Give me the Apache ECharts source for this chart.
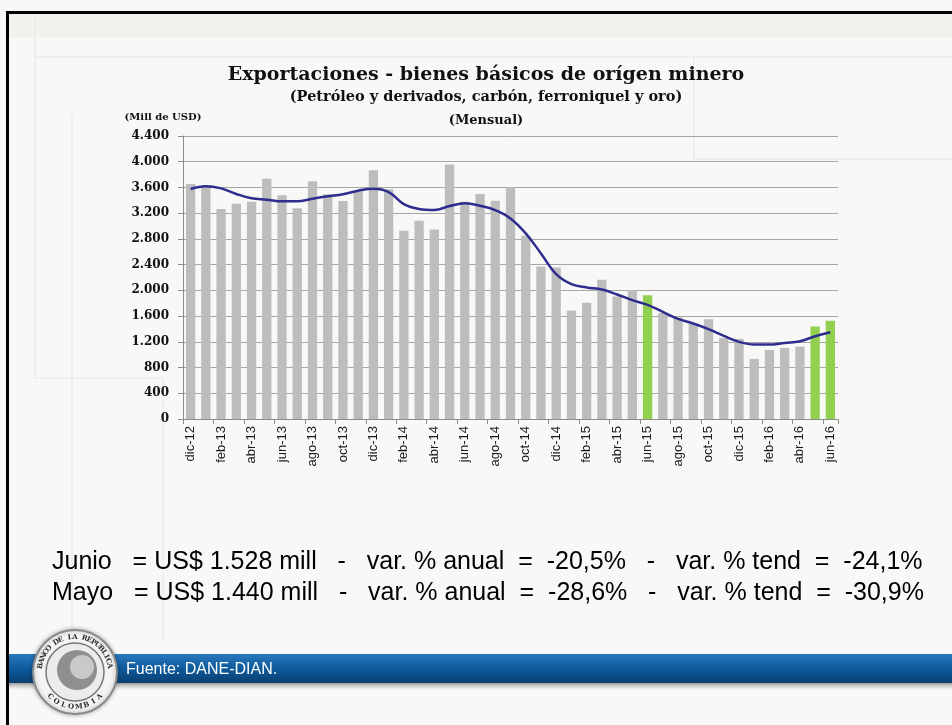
<!DOCTYPE html>
<html><head><meta charset="utf-8">
<script src="https://cdn.jsdelivr.net/npm/echarts@6/dist/echarts.min.js"></script>
<style>html,body{margin:0;padding:0;background:#f8f8f7;} #c{width:952px;height:725px;}</style>
</head><body><div id="c"></div>
<script>
const categories = ['dic-12','ene-13','feb-13','mar-13','abr-13','may-13','jun-13','jul-13','ago-13','sep-13','oct-13','nov-13',
  'dic-13','ene-14','feb-14','mar-14','abr-14','may-14','jun-14','jul-14','ago-14','sep-14','oct-14','nov-14',
  'dic-14','ene-15','feb-15','mar-15','abr-15','may-15','jun-15','jul-15','ago-15','sep-15','oct-15','nov-15',
  'dic-15','ene-16','feb-16','mar-16','abr-16','may-16','jun-16'];
const exportsValues = [3654,3610,3265,3348,3379,3737,3477,3275,3695,3493,3389,3545,
  3867,3571,2925,3083,2948,3955,3379,3498,3394,3602,2849,2372,
  2356,1687,1806,2164,1905,2006,1925,1650,1578,1484,1552,1261,
  1246,934,1074,1105,1126,1440,1528];
const trendValues = [3576,3620,3586,3498,3431,3410,3384,3384,3425,3462,3493,3550,
  3581,3529,3340,3265,3249,3311,3353,3316,3249,3119,2886,2574,
  2252,2097,2045,2014,1936,1848,1775,1666,1557,1484,1396,1292,
  1199,1157,1157,1183,1209,1287,1349];
const highlighted = ['jun-15','may-16','jun-16'];
const yMin = 0, yMax = 4400, yStep = 400;
const titleText = 'Exportaciones - bienes básicos de orígen minero';
const subtitleText = '(Petróleo y derivados, carbón, ferroniquel y oro)';
const periodText = '(Mensual)';
const unitText = '(Mill de USD)';
const noteLines = [
  'Junio   = US$ 1.528 mill   -   var. % anual  =  -20,5%   -   var. % tend  =  -24,1%',
  'Mayo   = US$ 1.440 mill   -   var. % anual  =  -28,6%   -   var. % tend  =  -30,9%'
];
const sourceText = 'Fuente: DANE-DIAN.';
const logoTop = 'BANCO DE LA REPUBLICA';
const logoBottom = 'COLOMBIA';

const fmt = v => String(v).replace(/\B(?=(\d{3})+(?!\d))/g, '.');
const faint = '#e6e6e4';

const cx = 75, cy = 672, rr = 35;
const ringText = [];
function arcText(str, a0, a1, flip) {
  const n = str.length;
  for (let i = 0; i < n; i++) {
    const a = a0 + (a1 - a0) * (n === 1 ? 0.5 : i / (n - 1));
    const rad = a * Math.PI / 180;
    ringText.push({type: 'text', z: 8, silent: true,
      x: cx + rr * Math.cos(rad), y: cy + rr * Math.sin(rad),
      rotation: flip ? -(rad - Math.PI / 2) : -(rad + Math.PI / 2),
      style: {text: str[i], fill: '#2a2a2a', font: 'bold 7px "DejaVu Serif"', textAlign: 'center', textVerticalAlign: 'middle'}});
  }
}
arcText(logoTop, 190, 350, false);
arcText(logoBottom, 135, 45, true);

const chart = echarts.init(document.getElementById('c'), null, {renderer:'canvas'});
chart.setOption({
  backgroundColor: '#f8f8f7',
  animation: false,
  grid: {left: 183, right: 114, top: 136, bottom: 306, containLabel: false},
  xAxis: {
    type: 'category', data: categories, boundaryGap: true,
    axisLine: {lineStyle: {color: '#8c8c8c', width: 1}},
    axisTick: {show: true, interval: 1, length: 5, lineStyle: {color: '#8c8c8c'}},
    axisLabel: {interval: 1, rotate: 90, margin: 7, color: '#1a1a1a', fontSize: 13, fontFamily: 'Liberation Sans'}
  },
  yAxis: {
    type: 'value', min: yMin, max: yMax, interval: yStep,
    axisLine: {show: true, lineStyle: {color: '#8c8c8c'}},
    axisTick: {show: true, length: 5, lineStyle: {color: '#8c8c8c'}},
    splitLine: {lineStyle: {color: '#a6a6a6', width: 1}},
    axisLabel: {formatter: fmt, margin: 14, color: '#111', fontSize: 12, fontWeight: 'bold', fontFamily: 'DejaVu Serif'}
  },
  series: [
    {type: 'bar', data: exportsValues, barWidth: '61%',
     itemStyle: {color: p => highlighted.includes(categories[p.dataIndex]) ? '#92d050' : '#bdbdbd'}},
    {type: 'line', data: trendValues, smooth: 0.4, symbol: 'none', z: 5,
     lineStyle: {color: '#2e2d8f', width: 2.5}}
  ],
  graphic: [
    {type: 'rect', silent: true, z: -10, shape: {x: 7, y: 13, width: 945, height: 24}, style: {fill: '#f2f2ed'}},
    {type: 'line', silent: true, z: -9, shape: {x1: 35, y1: 57, x2: 952, y2: 57}, style: {stroke: faint, lineWidth: 1}},
    {type: 'line', silent: true, z: -9, shape: {x1: 35, y1: 13, x2: 35, y2: 378}, style: {stroke: faint, lineWidth: 1}},
    {type: 'line', silent: true, z: -9, shape: {x1: 35, y1: 378, x2: 163, y2: 378}, style: {stroke: faint, lineWidth: 1}},
    {type: 'line', silent: true, z: -9, shape: {x1: 72, y1: 115, x2: 72, y2: 640}, style: {stroke: faint, lineWidth: 1}},
    {type: 'line', silent: true, z: -9, shape: {x1: 163, y1: 378, x2: 163, y2: 640}, style: {stroke: faint, lineWidth: 1}},
    {type: 'line', silent: true, z: -9, shape: {x1: 694, y1: 57, x2: 694, y2: 159}, style: {stroke: faint, lineWidth: 1}},
    {type: 'line', silent: true, z: -9, shape: {x1: 694, y1: 159, x2: 952, y2: 159}, style: {stroke: faint, lineWidth: 1}},
    {type: 'rect', silent: true, z: 20, shape: {x: 6, y: 11, width: 946, height: 3}, style: {fill: '#000'}},
    {type: 'rect', silent: true, z: 20, shape: {x: 6, y: 11, width: 3, height: 714}, style: {fill: '#000'}},
    {type: 'text', x: 486, y: 75, style: {text: titleText, fill: '#111', font: 'bold 19px "DejaVu Serif"', textAlign: 'center', textVerticalAlign: 'middle'}},
    {type: 'text', x: 486, y: 97, style: {text: subtitleText, fill: '#111', font: 'bold 14.5px "DejaVu Serif"', textAlign: 'center', textVerticalAlign: 'middle'}},
    {type: 'text', x: 486, y: 121, style: {text: periodText, fill: '#111', font: 'bold 13px "DejaVu Serif"', textAlign: 'center', textVerticalAlign: 'middle'}},
    {type: 'text', x: 163, y: 117, style: {text: unitText, fill: '#111', font: 'bold 10px "DejaVu Serif"', textAlign: 'center', textVerticalAlign: 'middle'}},
    {type: 'text', x: 52, y: 562, style: {text: noteLines[0], fill: '#000', font: '25px "Liberation Sans"', textAlign: 'left', textVerticalAlign: 'middle'}},
    {type: 'text', x: 52, y: 593, style: {text: noteLines[1], fill: '#000', font: '25px "Liberation Sans"', textAlign: 'left', textVerticalAlign: 'middle'}},
    {type: 'rect', silent: true, z: 1, shape: {x: 9, y: 683, width: 943, height: 7},
     style: {fill: new echarts.graphic.LinearGradient(0,0,0,1,[{offset:0,color:'#9a9a9a'},{offset:1,color:'rgba(200,200,200,0)'}])}},
    {type: 'rect', silent: true, z: 2, shape: {x: 9, y: 654, width: 943, height: 29},
     style: {fill: new echarts.graphic.LinearGradient(0,0,0,1,[{offset:0,color:'#2a79be'},{offset:0.5,color:'#0d5a9c'},{offset:1,color:'#0a3f70'}])}},
    {type: 'text', z: 3, x: 126, y: 670, style: {text: sourceText, fill: '#fff', font: '16px "Liberation Sans"', textAlign: 'left', textVerticalAlign: 'middle'}},
    {type: 'circle', z: 4, shape: {cx: cx, cy: cy, r: 42}, style: {fill: '#f4f4f4', stroke: '#8a8a8a', lineWidth: 2, shadowBlur: 4, shadowColor: 'rgba(0,0,0,0.3)'}},
    {type: 'circle', z: 5, shape: {cx: cx, cy: cy, r: 29}, style: {fill: '#ececec', stroke: '#777', lineWidth: 1.5}},
    {type: 'circle', z: 6, shape: {cx: 77, cy: 670, r: 20}, style: {fill: '#8f8f8f'}},
    {type: 'circle', z: 7, shape: {cx: 82, cy: 667, r: 12}, style: {fill: '#c9c9c9'}}
  ].concat(ringText)
});
</script></body></html>
